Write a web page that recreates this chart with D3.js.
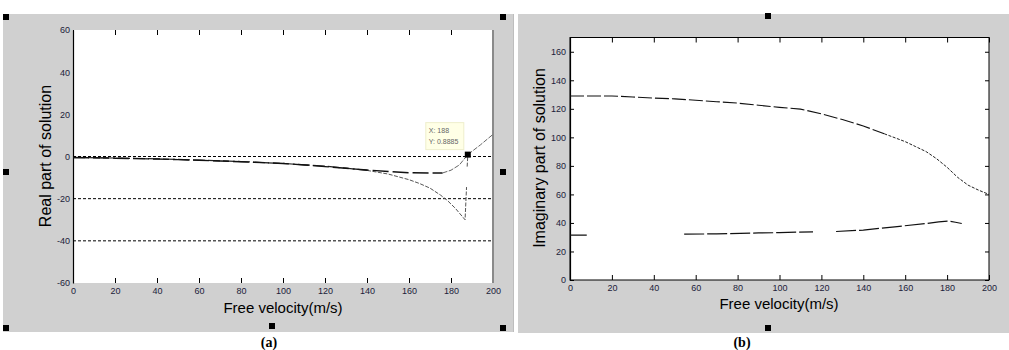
<!DOCTYPE html>
<html lang="en">
<head>
    <meta charset="UTF-8">
    <title>Real and imaginary part of solution</title>
    <style>
        body { margin: 0; background: #fff; }
        svg { display: block; }
    </style>
</head>
<body>
<svg width="1009" height="350"></svg>

<script src="https://cdn.jsdelivr.net/npm/d3@7/dist/d3.min.js"></script>
<script>
    // ---- data ----
    const velTicks = [0, 20, 40, 60, 80, 100, 120, 140, 160, 180, 200];
    const realTicks = [-60, -40, -20, 0, 20, 40, 60];
    const imagTicks = [0, 20, 40, 60, 80, 100, 120, 140, 160];
    const realRefLines = [0, -20, -40];

    const realUpperV = [0, 10, 20, 30, 40, 50, 60, 70, 80, 90, 100, 110, 120, 130, 140, 150, 160, 170, 176, 180, 184, 188, 194, 200];
    const realUpperY = [-0.5, -0.6, -0.8, -1.0, -1.2, -1.5, -1.8, -2.1, -2.5, -2.9, -3.3, -4.0, -4.8, -5.6, -6.4, -7.1, -7.7, -7.8, -7.8, -6.5, -4.0, 0.9, 5.5, 10.5];
    const realLowerV = [0, 20, 40, 60, 80, 100, 120, 130, 140, 150, 160, 165, 170, 175, 178, 182, 186.7, 187.4, 187.5, 187.7, 188];
    const realLowerY = [-0.5, -0.7, -1.1, -1.7, -2.4, -3.3, -4.6, -5.5, -6.6, -8.3, -11, -12.8, -15, -18.3, -20.6, -24.5, -30, -14.5, null, -4.8, 0.9];
    const cursorX = 188, cursorY = 0.8885;

    const imagUpperV = [0, 10, 20, 30, 40, 50, 60, 70, 80, 90, 100, 110, 120, 130, 140, 150, 160, 165, 170, 175, 180, 185, 190, 195, 200];
    const imagUpperY = [129, 129, 129, 128.3, 127.5, 127, 126, 125, 124, 122.5, 121, 119.8, 116.5, 112.5, 108, 102.5, 97, 93.5, 90, 85, 79, 72, 66.5, 63, 60];
    const imagLowerV = [0, 8, 30, 54.5, 70, 90, 100, 116, 121, 127, 140, 155, 170, 176, 181, 184, 187];
    const imagLowerY = [31.5, 31.5, null, 32.2, 32.3, 33, 33.2, 33.8, null, 34, 35, 37.3, 39.6, 40.8, 41.3, 40.5, 39.6];

    const zip = (xs, ys) => xs.map((v, i) => ({v, y: ys[i]}));

    // ---- drawing ----
    const svg = d3.select("svg");
    const tickFont = "9px 'Liberation Sans', Arial, sans-serif";
    const labelFont = "'Liberation Sans', Arial, sans-serif";

    // grey figure backgrounds
    svg.append("rect").attr("x", 3).attr("y", 14).attr("width", 511).attr("height", 318).attr("fill", "#d0d0d0");
    svg.append("rect").attr("x", 518).attr("y", 14).attr("width", 491).attr("height", 319).attr("fill", "#d0d0d0");
    svg.append("line").attr("x1", 513.5).attr("x2", 513.5).attr("y1", 14).attr("y2", 332).attr("stroke", "#bdbdbd");

    const panel = (opts) => {
        const {x0, x1, y0, y1, yDomain, yTicks, box} = opts;
        const x = d3.scaleLinear([0, 200], [x0, x1]);
        const y = d3.scaleLinear(yDomain, [y1, y0]);
        const g = svg.append("g");

        g.append("rect").attr("x", x0).attr("y", y0).attr("width", x1 - x0).attr("height", y1 - y0)
            .attr("fill", "#fff")
            .attr("stroke", box ? "#000" : "none");

        const bottom = g.append("g").attr("transform", `translate(0,${y1})`)
            .call(d3.axisBottom(x).tickValues(velTicks).tickSizeInner(-5).tickSizeOuter(0).tickPadding(5).tickFormat(d => String(d)));
        const top = g.append("g").attr("transform", `translate(0,${y0})`)
            .call(d3.axisTop(x).tickValues(velTicks).tickSizeInner(-5).tickSizeOuter(0).tickFormat(""));
        const left = g.append("g").attr("transform", `translate(${x0},0)`)
            .call(d3.axisLeft(y).tickValues(yTicks).tickSizeInner(box ? -4 : 0).tickSizeOuter(0).tickPadding(box ? 4 : 3).tickFormat(d => String(d)));
        if (box) {
            g.append("g").attr("transform", `translate(${x1},0)`)
                .call(d3.axisRight(y).tickValues(yTicks).tickSizeInner(-4).tickSizeOuter(0).tickFormat(""))
                .select(".domain").remove();
        } else {
            g.append("line").attr("x1", x1).attr("x2", x1).attr("y1", y0).attr("y2", y1)
                .attr("stroke", "#8a8a8a").attr("stroke-width", 2);
        }
        bottom.select(".domain").remove();
        top.select(".domain").remove();
        g.selectAll(".tick text").style("font", tickFont).attr("fill", "#1c1c3a");
        g.selectAll(".tick line").attr("stroke", "#000");
        left.select(".domain").attr("stroke", "#000").attr("stroke-width", 1.2);

        return {g, x, y};
    };

    // ---- (a) real part ----
    const a = panel({x0: 73, x1: 493, y0: 30, y1: 283, yDomain: [-60, 60], yTicks: realTicks, box: false});

    a.g.append("g").selectAll("line").data(realRefLines).join("line")
        .attr("x1", a.x(0)).attr("x2", a.x(200))
        .attr("y1", d => a.y(d)).attr("y2", d => a.y(d))
        .attr("stroke", "#000").attr("stroke-dasharray", "3,2");

    const lineA = d3.line().defined(d => d.y != null).x(d => a.x(d.v)).y(d => a.y(d.y));
    const lowerA = zip(realLowerV, realLowerY);
    const upperA = zip(realUpperV, realUpperY);
    // the lower branch gets thin and dotted past ~140, the upper one past ~176
    a.g.append("path").datum(lowerA.filter(d => d.v <= 140))
        .attr("fill", "none").attr("stroke", "#222").attr("stroke-width", 1.2)
        .attr("stroke-dasharray", "12,3").attr("d", lineA);
    a.g.append("path").datum(lowerA.filter(d => d.v >= 140))
        .attr("fill", "none").attr("stroke", "#555").attr("stroke-width", 1)
        .attr("stroke-dasharray", "4,1.5").attr("d", lineA);
    a.g.append("path").datum(upperA.filter(d => d.v <= 176))
        .attr("fill", "none").attr("stroke", "#111").attr("stroke-width", 1.4)
        .attr("stroke-dasharray", "16,4").attr("d", lineA);
    a.g.append("path").datum(upperA.filter(d => d.v >= 176))
        .attr("fill", "none").attr("stroke", "#666").attr("stroke-width", 1)
        .attr("stroke-dasharray", "5,1.5").attr("d", lineA);

    // data cursor
    const cx = a.x(cursorX), cy = a.y(cursorY);
    a.g.append("rect").attr("x", cx - 42).attr("y", cy - 32).attr("width", 38).attr("height", 27)
        .attr("fill", "#ffffe6").attr("stroke", "#eeeecc");
    a.g.append("text").attr("x", cx - 39).attr("y", cy - 22)
        .style("font", "7px 'Liberation Sans', Arial, sans-serif").attr("fill", "#666").text(`X: ${cursorX}`);
    a.g.append("text").attr("x", cx - 39).attr("y", cy - 11)
        .style("font", "7px 'Liberation Sans', Arial, sans-serif").attr("fill", "#666").text(`Y: ${cursorY}`);
    a.g.append("rect").attr("x", cx - 3).attr("y", cy - 3).attr("width", 6).attr("height", 6).attr("fill", "#000");

    a.g.append("text").attr("x", 283).attr("y", 313).attr("text-anchor", "middle")
        .style("font", `15px ${labelFont}`).text("Free velocity(m/s)");
    a.g.append("text").attr("transform", "translate(51,156) rotate(-90)").attr("text-anchor", "middle")
        .style("font", `16px ${labelFont}`).text("Real part of solution");

    // ---- (b) imaginary part ----
    const b = panel({x0: 570, x1: 989, y0: 37.5, y1: 280, yDomain: [0, 170], yTicks: imagTicks, box: true});

    const lineB = d3.line().defined(d => d.y != null).x(d => b.x(d.v)).y(d => b.y(d.y));
    const upperB = zip(imagUpperV, imagUpperY);
    b.g.append("path").datum(upperB.filter(d => d.v <= 150))
        .attr("fill", "none").attr("stroke", "#111").attr("stroke-width", 1.1)
        .attr("stroke-dasharray", "14,3").attr("d", lineB);
    b.g.append("path").datum(upperB.filter(d => d.v >= 150))
        .attr("fill", "none").attr("stroke", "#222").attr("stroke-width", 1)
        .attr("stroke-dasharray", "3,1.5").attr("d", lineB);
    b.g.append("path").datum(zip(imagLowerV, imagLowerY))
        .attr("fill", "none").attr("stroke", "#111").attr("stroke-width", 1.2)
        .attr("stroke-dasharray", "20,3").attr("d", lineB);

    b.g.append("text").attr("x", 779).attr("y", 309).attr("text-anchor", "middle")
        .style("font", `15px ${labelFont}`).text("Free velocity(m/s)");
    b.g.append("text").attr("transform", "translate(545,158) rotate(-90)").attr("text-anchor", "middle")
        .style("font", `16px ${labelFont}`).text("Imaginary part of solution");

    // selection handles
    const handles = [[6, 17], [6, 172], [6, 328], [503, 17], [503, 172], [503, 328], [272, 326], [768, 16], [768, 328]];
    svg.append("g").selectAll("rect").data(handles).join("rect")
        .attr("x", d => d[0] - 3).attr("y", d => d[1] - 3).attr("width", 6).attr("height", 6).attr("fill", "#000");

    // captions
    svg.append("g").selectAll("text").data([["(a)", 269], ["(b)", 742]]).join("text")
        .attr("x", d => d[1]).attr("y", 347).attr("text-anchor", "middle")
        .style("font", "bold 14px 'Liberation Serif', 'Times New Roman', serif").text(d => d[0]);
</script>
</body>
</html>
